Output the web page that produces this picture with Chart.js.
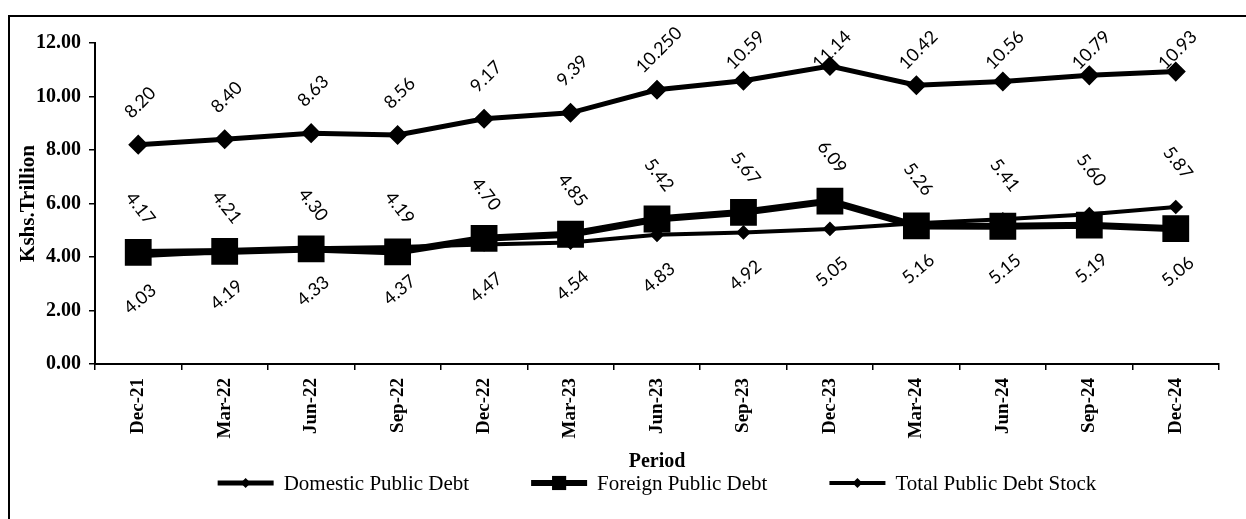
<!DOCTYPE html>
<html>
<head>
<meta charset="utf-8">
<script src="https://cdn.jsdelivr.net/npm/chart.js@4.4.1/dist/chart.umd.min.js"></script>
<style>
html,body{margin:0;padding:0;background:#fff;}
#wrap{width:1246px;height:519px;position:relative;}
</style>
</head>
<body>
<div id="wrap"><canvas id="c" width="1246" height="519"></canvas></div>
<script>
const periods = ["Dec-21","Mar-22","Jun-22","Sep-22","Dec-22","Mar-23","Jun-23","Sep-23","Dec-23","Mar-24","Jun-24","Sep-24","Dec-24"];
const domestic = [4.03,4.19,4.33,4.37,4.47,4.54,4.83,4.92,5.05,5.26,5.41,5.60,5.87];
const foreign  = [4.17,4.21,4.30,4.19,4.70,4.85,5.42,5.67,6.09,5.16,5.15,5.19,5.06];
const total    = [8.20,8.40,8.63,8.56,9.17,9.39,10.25,10.59,11.14,10.42,10.56,10.79,10.93];
const totalLabels = ["8.20","8.40","8.63","8.56","9.17","9.39","10.250","10.59","11.14","10.42","10.56","10.79","10.93"];
const seriesNames = ["Domestic Public Debt","Foreign Public Debt","Total Public Debt Stock"];
const yMin = 0, yMax = 12, yStep = 2;
// from this period on, domestic labels sit above and foreign labels below
const labelSwapFrom = "Mar-24";

const SERIF = "'Liberation Serif','Times New Roman',serif";
const SANS = "Lato,'Open Sans',sans-serif";

const framePlugin = {
  id: 'frame',
  beforeDraw(chart) {
    const ctx = chart.ctx;
    ctx.save();
    ctx.fillStyle = '#fff';
    ctx.fillRect(0, 0, chart.width, chart.height);
    ctx.strokeStyle = '#000';
    ctx.lineWidth = 2;
    ctx.beginPath();
    ctx.moveTo(9, chart.height);
    ctx.lineTo(9, 16);
    ctx.lineTo(chart.width, 16);
    ctx.stroke();
    ctx.restore();
  }
};

const labelPlugin = {
  id: 'valueLabels',
  afterDatasetsDraw(chart) {
    const ctx = chart.ctx;
    const mD = chart.getDatasetMeta(0), mF = chart.getDatasetMeta(1), mT = chart.getDatasetMeta(2);
    const swapIdx = periods.indexOf(labelSwapFrom);
    ctx.save();
    ctx.fillStyle = '#000';
    ctx.font = '18px ' + SANS;
    ctx.textAlign = 'center';
    ctx.textBaseline = 'middle';
    const draw = (txt, x, y, ang) => {
      ctx.save(); ctx.translate(x, y); ctx.rotate(ang * Math.PI / 180); ctx.fillText(txt, 0, 0); ctx.restore();
    };
    const topLimit = chart.chartArea.top + 7;
    periods.forEach((p, i) => {
      const dUp = i >= swapIdx;
      const hi = dUp ? mD.data[i] : mF.data[i];
      const lo = dUp ? mF.data[i] : mD.data[i];
      const hiV = dUp ? domestic[i] : foreign[i];
      const loV = dUp ? foreign[i] : domestic[i];
      draw(hiV.toFixed(2), hi.x + 2, hi.y - 44, 52);
      draw(loV.toFixed(2), lo.x + 2, lo.y + 43, -40);
      const t = mT.data[i];
      draw(totalLabels[i], t.x + 2, Math.max(t.y - 42, topLimit), -45);
    });
    ctx.restore();
  }
};

function drawMarker(ctx, style, x, y, r) {
  ctx.beginPath();
  if (style === 'rect') {
    const s = r * Math.SQRT1_2;
    ctx.rect(x - s, y - s, 2 * s, 2 * s);
  } else {
    ctx.moveTo(x, y - r); ctx.lineTo(x + r, y); ctx.lineTo(x, y + r); ctx.lineTo(x - r, y); ctx.closePath();
  }
  ctx.fill();
}

const legendPlugin = {
  id: 'customLegend',
  afterDraw(chart) {
    const ctx = chart.ctx;
    const items = chart.data.datasets.map(ds => ({
      label: ds.label, lw: ds.legendLineWidth, style: ds.pointStyle, r: ds.legendRadius
    }));
    ctx.save();
    ctx.font = '21px ' + SERIF;
    const lineW = 56, gap = 10, spacing = 62;
    const widths = items.map(it => lineW + gap + ctx.measureText(it.label).width);
    const totalW = widths.reduce((a, b) => a + b, 0) + spacing * (items.length - 1);
    const cx = (chart.chartArea.left + chart.chartArea.right) / 2;
    let x = cx - totalW / 2;
    const y = 483;
    ctx.fillStyle = '#000'; ctx.strokeStyle = '#000';
    ctx.textBaseline = 'middle'; ctx.textAlign = 'left';
    items.forEach((it, i) => {
      ctx.lineWidth = it.lw;
      ctx.beginPath(); ctx.moveTo(x, y); ctx.lineTo(x + lineW, y); ctx.stroke();
      drawMarker(ctx, it.style, x + lineW / 2, y, it.r);
      ctx.fillText(it.label, x + lineW + gap, y + 1);
      x += widths[i] + spacing;
    });
    ctx.restore();
  }
};

new Chart(document.getElementById('c'), {
  type: 'line',
  data: {
    labels: periods,
    datasets: [
      { label: seriesNames[0], data: domestic, borderColor: '#000', backgroundColor: '#000', borderWidth: 4,
        pointStyle: 'rectRot', pointRadius: 4.5, pointBackgroundColor: '#000', pointBorderColor: '#000',
        legendLineWidth: 5, legendRadius: 5, tension: 0 },
      { label: seriesNames[1], data: foreign, borderColor: '#000', backgroundColor: '#000', borderWidth: 7,
        pointStyle: 'rect', pointRadius: 14, pointBackgroundColor: '#000', pointBorderColor: '#000',
        legendLineWidth: 6, legendRadius: 10, tension: 0 },
      { label: seriesNames[2], data: total, borderColor: '#000', backgroundColor: '#000', borderWidth: 5,
        pointStyle: 'rectRot', pointRadius: 6.5, pointBackgroundColor: '#000', pointBorderColor: '#000',
        legendLineWidth: 4, legendRadius: 5, tension: 0 }
    ]
  },
  options: {
    responsive: false,
    animation: false,
    devicePixelRatio: 1,
    layout: { padding: { left: 0, top: 43, right: 27, bottom: 41 } },
    plugins: { legend: { display: false }, tooltip: { enabled: false } },
    scales: {
      x: {
        type: 'category',
        offset: true,
        grid: { display: true, drawOnChartArea: false, drawTicks: true, tickLength: 6, color: '#000', lineWidth: 1.5, offset: true },
        border: { display: true, color: '#000', width: 2 },
        ticks: { color: '#000', font: { family: SERIF, size: 19, weight: 'bold' }, minRotation: 90, maxRotation: 90, padding: 8, autoSkip: false },
        title: { display: true, text: 'Period', color: '#000', font: { family: SERIF, size: 20, weight: 'bold' }, padding: { top: 0, bottom: 4 } },
        afterFit(s) { s.height = 114; }
      },
      y: {
        min: yMin, max: yMax,
        grid: { display: true, drawOnChartArea: false, drawTicks: true, tickLength: 6, color: '#000', lineWidth: 1.5 },
        border: { display: true, color: '#000', width: 2 },
        ticks: { stepSize: yStep, color: '#000', font: { family: SERIF, size: 20, weight: 'bold' }, padding: 8,
          callback: v => Number(v).toFixed(2) },
        title: { display: true, text: 'Kshs.Trillion', color: '#000', font: { family: SERIF, size: 21, weight: 'bold' }, padding: { top: 16, bottom: 0 } },
        afterFit(s) { s.width = 95; }
      }
    }
  },
  plugins: [framePlugin, labelPlugin, legendPlugin]
});
</script>
</body>
</html>
